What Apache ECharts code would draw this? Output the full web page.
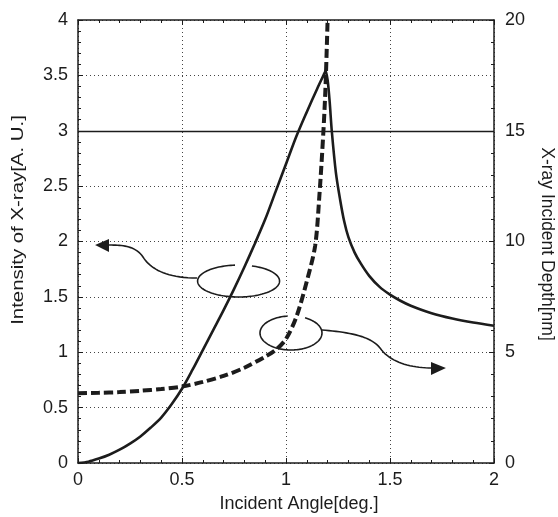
<!DOCTYPE html>
<html>
<head>
<meta charset="utf-8">
<script src="https://cdn.jsdelivr.net/npm/echarts@6/dist/echarts.min.js"></script>
<style>
html,body{margin:0;padding:0;background:#fff;}
#c{width:558px;height:517px;}
</style>
</head>
<body>
<div id="c"></div>
<script>
// ---- data ----
const xTicks = [0, 0.5, 1, 1.5, 2];
const leftTicks = [0, 0.5, 1, 1.5, 2, 2.5, 3, 3.5, 4];
const rightTicks = [0, 5, 10, 15, 20];

// Intensity of X-ray [A.U.] (solid, left axis)
const solidAngles = [0, 0.05, 0.1, 0.15, 0.2, 0.25, 0.3, 0.35, 0.4, 0.45, 0.5, 0.55, 0.6, 0.65, 0.7, 0.75, 0.8, 0.85, 0.9, 0.95, 1.0, 1.05, 1.1, 1.15, 1.18, 1.19, 1.2, 1.21, 1.22, 1.24, 1.26, 1.28, 1.3, 1.33, 1.36, 1.4, 1.45, 1.5, 1.55, 1.6, 1.7, 1.8, 1.9, 2.0];
const solidIntensity = [0, 0.012, 0.04, 0.075, 0.12, 0.175, 0.24, 0.32, 0.41, 0.53, 0.67, 0.84, 1.02, 1.2, 1.38, 1.57, 1.77, 1.98, 2.2, 2.45, 2.7, 2.95, 3.17, 3.38, 3.5, 3.54, 3.46, 3.26, 3.0, 2.62, 2.38, 2.18, 2.04, 1.9, 1.8, 1.69, 1.59, 1.52, 1.465, 1.42, 1.352, 1.304, 1.268, 1.24];

// X-ray incident depth [nm] (dashed, right axis)
const dashAngles = [0, 0.1, 0.2, 0.3, 0.4, 0.5, 0.6, 0.7, 0.8, 0.9, 0.95, 1.0, 1.05, 1.1, 1.14, 1.16, 1.18, 1.19, 1.2];
const dashDepth = [3.15, 3.17, 3.2, 3.26, 3.34, 3.45, 3.66, 3.93, 4.3, 4.8, 5.1, 5.6, 6.6, 8.2, 9.8, 12, 15, 17, 20];

const FONT = 'Liberation Sans, Arial, sans-serif';
const INK = '#1c1c1c';

const chart = echarts.init(document.getElementById('c'));

const gridStyle = {show: true, lineStyle: {color: '#444', width: 1, type: [1, 3]}};

chart.setOption({
  backgroundColor: '#fff',
  animation: false,
  grid: {left: 78, right: 64, top: 20, bottom: 54, show: false},
  xAxis: [{
    type: 'value', min: 0, max: 2, interval: 0.5,
    axisLine: {show: true, onZero: false, lineStyle: {color: INK, width: 1.5}},
    axisTick: {show: true, inside: true, length: 5, lineStyle: {color: INK}},
    minorTick: {show: true, splitNumber: 5, length: 3, lineStyle: {color: INK}},
    axisLabel: {fontSize: 18, color: INK, fontFamily: FONT, margin: 8,
      formatter: v => String(v)},
    splitLine: gridStyle
  }, {
    type: 'value', min: 0, max: 2, interval: 0.5, position: 'top',
    axisLine: {show: true, onZero: false, lineStyle: {color: INK, width: 1.5}},
    axisTick: {show: true, inside: true, length: 5, lineStyle: {color: INK}},
    minorTick: {show: true, splitNumber: 5, length: 3, lineStyle: {color: INK}},
    axisLabel: {show: false},
    splitLine: {show: false}
  }],
  yAxis: [{
    type: 'value', min: 0, max: 4, interval: 0.5,
    axisLine: {show: true, onZero: false, lineStyle: {color: INK, width: 1.5}},
    axisTick: {show: true, inside: true, length: 5, lineStyle: {color: INK}},
    minorTick: {show: true, splitNumber: 5, length: 3, lineStyle: {color: INK}},
    axisLabel: {fontSize: 18, color: INK, fontFamily: FONT, margin: 10,
      formatter: v => String(v)},
    splitLine: gridStyle
  }, {
    type: 'value', min: 0, max: 20, interval: 5, position: 'right',
    axisLine: {show: true, onZero: false, lineStyle: {color: INK, width: 1.5}},
    axisTick: {show: true, inside: true, length: 5, lineStyle: {color: INK}},
    minorTick: {show: true, splitNumber: 5, length: 3, lineStyle: {color: INK}},
    axisLabel: {fontSize: 18, color: INK, fontFamily: FONT, margin: 11,
      formatter: v => String(v)},
    splitLine: {show: false}
  }],
  series: [{
    name: 'Intensity', type: 'line', xAxisIndex: 0, yAxisIndex: 0,
    showSymbol: false, symbol: 'none', smooth: 0.3,
    data: solidAngles.map((a, i) => [a, solidIntensity[i]]),
    lineStyle: {color: INK, width: 2.6},
    markLine: {
      silent: true, symbol: 'none', label: {show: false},
      lineStyle: {color: INK, width: 1.3, type: 'solid'},
      data: [{yAxis: 3}]
    },
    z: 3
  }, {
    name: 'Depth', type: 'line', xAxisIndex: 0, yAxisIndex: 1,
    showSymbol: false, symbol: 'none', smooth: 0.3,
    data: dashAngles.map((a, i) => [a, dashDepth[i]]),
    lineStyle: {color: INK, width: 4, type: [9, 4]},
    z: 3
  }]
});

// ---- annotations (defined in data coordinates, converted via the grid scales) ----
function P(x, y) { return chart.convertToPixel({xAxisIndex: 0, yAxisIndex: 0}, [x, y]); }

function ellipsePoints(cx, cy, rx, ry, gapFrom, gapTo) {
  const c = P(cx, cy);
  const e = P(cx + rx, cy + ry);
  const RX = Math.abs(e[0] - c[0]), RY = Math.abs(e[1] - c[1]);
  const pts = [];
  const a0 = gapTo, a1 = gapFrom + 360;
  for (let a = a0; a <= a1; a += 3) {
    const r = a * Math.PI / 180;
    pts.push([c[0] + RX * Math.cos(r), c[1] + RY * Math.sin(r)]);
  }
  return pts;
}

function bezierPoints(pts) {
  const q = pts.map(p => P(p[0], p[1]));
  const out = [q[0]];
  for (let i = 1; i + 2 < q.length; i += 3) {
    const p0 = q[i - 1], p1 = q[i], p2 = q[i + 1], p3 = q[i + 2];
    for (let k = 1; k <= 20; k++) {
      const t = k / 20, u = 1 - t;
      out.push([
        u * u * u * p0[0] + 3 * u * u * t * p1[0] + 3 * u * t * t * p2[0] + t * t * t * p3[0],
        u * u * u * p0[1] + 3 * u * u * t * p1[1] + 3 * u * t * t * p2[1] + t * t * t * p3[1]
      ]);
    }
  }
  return out;
}

const arrow1 = [[0.572, 1.670], [0.418, 1.670], [0.346, 1.761], [0.3125, 1.860], [0.274, 1.968], [0.202, 1.968], [0.144, 1.968]];
const head1 = [[0.082, 1.968], [0.149, 2.023], [0.149, 1.905]];
const arrow2 = [[1.173, 1.201], [1.284, 1.183], [1.404, 1.156], [1.452, 1.038], [1.5, 0.912], [1.596, 0.858], [1.702, 0.858]];
const head2 = [[1.769, 0.858], [1.697, 0.912], [1.697, 0.795]];

const lineSty = {stroke: INK, lineWidth: 1.6, fill: null};

chart.setOption({
  graphic: [
    {type: 'polyline', shape: {points: ellipsePoints(0.772, 1.643, 0.197, 0.144, -95, -71)}, style: lineSty, z: 10},
    {type: 'polyline', shape: {points: ellipsePoints(1.024, 1.174, 0.149, 0.1535, -96, -63)}, style: lineSty, z: 10},
    {type: 'polyline', shape: {points: bezierPoints(arrow1)}, style: lineSty, z: 10},
    {type: 'polygon', shape: {points: head1.map(p => P(p[0], p[1]))}, style: {fill: INK}, z: 10},
    {type: 'polyline', shape: {points: bezierPoints(arrow2)}, style: lineSty, z: 10},
    {type: 'polygon', shape: {points: head2.map(p => P(p[0], p[1]))}, style: {fill: INK}, z: 10},
    {type: 'text', x: 18, y: 220, rotation: Math.PI / 2, scaleX: 1.2,
      style: {text: 'Intensity of X-ray[A. U.]', font: '17px ' + FONT, fill: INK, align: 'center', verticalAlign: 'middle'}},
    {type: 'text', x: 547, y: 244, rotation: -Math.PI / 2,
      style: {text: 'X-ray Incident Depth[nm]', font: '17.5px ' + FONT, fill: INK, align: 'center', verticalAlign: 'middle'}},
    {type: 'text', x: 299, y: 504,
      style: {text: 'Incident Angle[deg.]', font: '18px ' + FONT, fill: INK, align: 'center', verticalAlign: 'middle'}}
  ]
});
</script>
</body>
</html>
